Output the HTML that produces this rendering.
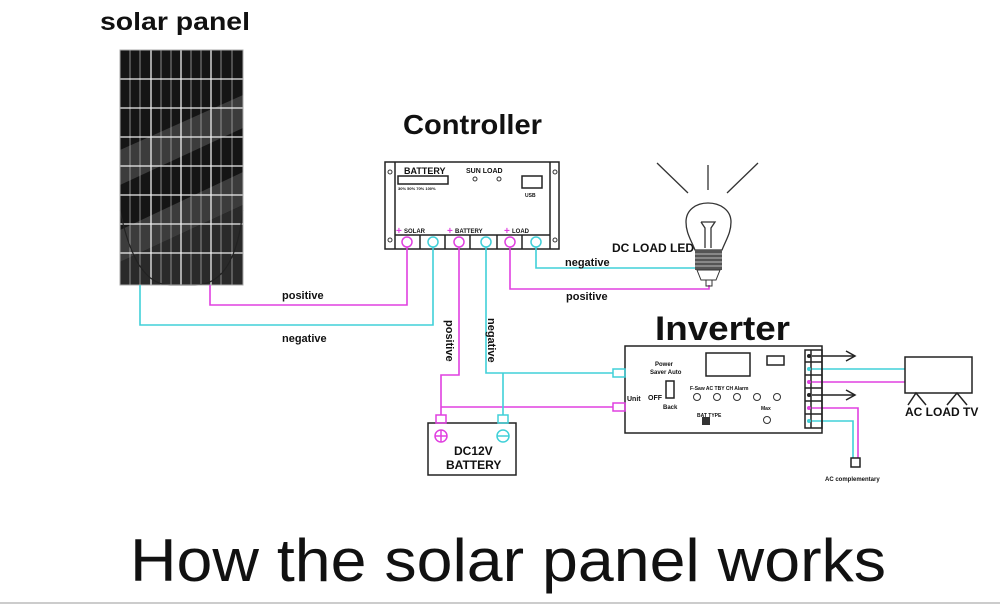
<!DOCTYPE html>
<html><head><meta charset="utf-8"><style>
html,body{margin:0;padding:0;background:#fff;}
svg{display:block;font-family:"Liberation Sans",sans-serif;}
</style></head><body>
<svg width="1000" height="605" viewBox="0 0 1000 605" xmlns="http://www.w3.org/2000/svg">
<rect width="1000" height="605" fill="#fff"/>
<line x1="0" y1="603" x2="1000" y2="603" stroke="#ccc" stroke-width="2"/>
<text x="100" y="30" font-size="25" font-weight="bold" fill="#111" textLength="150" lengthAdjust="spacingAndGlyphs">solar panel</text>
<!-- panel -->
<rect x="120" y="50" width="123" height="235" fill="#151515"/>
<polygon points="120,150 243,95 243,128 120,185" fill="#3c3c3c"/>
<polygon points="120,230 243,172 243,205 120,262" fill="#3c3c3c"/>
<polygon points="120,262 243,205 243,285 120,285" fill="#2a2a2a"/>
<g stroke="#aaa" stroke-width="0.8">
<line x1="130" y1="50" x2="130" y2="285"/><line x1="140" y1="50" x2="140" y2="285"/>
<line x1="161" y1="50" x2="161" y2="285"/><line x1="171" y1="50" x2="171" y2="285"/>
<line x1="191" y1="50" x2="191" y2="285"/><line x1="201" y1="50" x2="201" y2="285"/>
<line x1="221" y1="50" x2="221" y2="285"/><line x1="232" y1="50" x2="232" y2="285"/>
</g>
<g stroke="#eee" stroke-width="1.3">
<line x1="151" y1="50" x2="151" y2="285"/><line x1="181" y1="50" x2="181" y2="285"/><line x1="211" y1="50" x2="211" y2="285"/>
<line x1="120" y1="79" x2="243" y2="79"/><line x1="120" y1="108" x2="243" y2="108"/><line x1="120" y1="137" x2="243" y2="137"/>
<line x1="120" y1="166" x2="243" y2="166"/><line x1="120" y1="195" x2="243" y2="195"/><line x1="120" y1="224" x2="243" y2="224"/>
<line x1="120" y1="253" x2="243" y2="253"/>
</g>
<path d="M120,210 Q135,285 170,285 L195,285 Q235,285 243,210" fill="none" stroke="#222" stroke-width="1.2"/>
<rect x="120" y="50" width="123" height="235" fill="none" stroke="#aaa" stroke-width="1"/>

<!-- controller -->
<text x="403" y="134" font-size="28" font-weight="bold" fill="#111" textLength="139" lengthAdjust="spacingAndGlyphs">Controller</text>
<g stroke="#222" stroke-width="1.5" fill="none">
<rect x="385" y="162" width="174" height="87"/>
<line x1="395" y1="162" x2="395" y2="249"/><line x1="550" y1="162" x2="550" y2="249"/>
<line x1="395" y1="235" x2="550" y2="235"/>
<line x1="420" y1="235" x2="420" y2="249"/><line x1="445" y1="235" x2="445" y2="249"/>
<line x1="470" y1="235" x2="470" y2="249"/><line x1="497" y1="235" x2="497" y2="249"/><line x1="522" y1="235" x2="522" y2="249"/>
<rect x="398" y="176" width="50" height="8"/>
<rect x="522" y="176" width="20" height="12"/>
</g>
<g fill="none" stroke="#333" stroke-width="1">
<circle cx="390" cy="172" r="2"/><circle cx="390" cy="240" r="2"/><circle cx="555" cy="172" r="2"/><circle cx="555" cy="240" r="2"/>
<circle cx="475" cy="179" r="2"/><circle cx="499" cy="179" r="2"/>
</g>
<g font-size="9" font-weight="bold" fill="#111">
<text x="404" y="174">BATTERY</text><text x="466" y="173" font-size="7">SUN LOAD</text>
<text x="398" y="190" font-size="4">30% 50% 70% 100%</text><text x="525" y="197" font-size="5">USB</text>
<text x="404" y="233" font-size="6">SOLAR</text><text x="455" y="233" font-size="6">BATTERY</text><text x="512" y="233" font-size="6">LOAD</text>
</g>
<g fill="#e040e0" font-size="10" font-weight="bold"><text x="396" y="234">+</text><text x="447" y="234">+</text><text x="504" y="234">+</text></g>
<g fill="none" stroke-width="1.5">
<circle cx="407" cy="242" r="5" stroke="#e040e0"/><circle cx="459" cy="242" r="5" stroke="#e040e0"/><circle cx="510" cy="242" r="5" stroke="#e040e0"/>
<circle cx="433" cy="242" r="5" stroke="#40d0d8"/><circle cx="486" cy="242" r="5" stroke="#40d0d8"/><circle cx="536" cy="242" r="5" stroke="#40d0d8"/>
</g>
<!-- wires -->
<g fill="none" stroke-width="1.6">
<polyline points="407,247 407,305 210,305 210,285" stroke="#e040e0"/>
<polyline points="433,247 433,325 140,325 140,285" stroke="#40d0d8"/>
<polyline points="459,247 459,375 441,375 441,415" stroke="#e040e0"/>
<polyline points="441,407 613,407" stroke="#e040e0"/>
<polyline points="486,247 486,373 613,373" stroke="#40d0d8"/>
<polyline points="503,373 503,415" stroke="#40d0d8"/>
<polyline points="536,247 536,268 695,268" stroke="#40d0d8"/>
<polyline points="510,247 510,289 709,289 709,285" stroke="#e040e0"/>
<polyline points="812,369 905,369" stroke="#40d0d8"/>
<polyline points="812,382 905,382" stroke="#e040e0"/>
<polyline points="812,408 858,408 858,458" stroke="#e040e0"/>
<polyline points="812,421 853,421 853,458" stroke="#40d0d8"/>
</g>
<g font-size="11" font-weight="bold" fill="#111">
<text x="282" y="299">positive</text><text x="282" y="342">negative</text>
<text x="565" y="266">negative</text><text x="566" y="300">positive</text>
<text x="612" y="252" font-size="12">DC LOAD LED</text>
<text transform="translate(446,320) rotate(90)">positive</text>
<text transform="translate(488,318) rotate(90)">negative</text>
</g>
<!-- battery -->
<g fill="none" stroke-width="1.5">
<rect x="428" y="423" width="88" height="52" stroke="#222"/>
<rect x="436" y="415" width="10" height="8" stroke="#e040e0"/>
<rect x="498" y="415" width="10" height="8" stroke="#40d0d8"/>
<circle cx="441" cy="436" r="6" stroke="#e040e0"/><line x1="435" y1="436" x2="447" y2="436" stroke="#e040e0"/><line x1="441" y1="430" x2="441" y2="442" stroke="#e040e0"/>
<circle cx="503" cy="436" r="6" stroke="#40d0d8"/><line x1="497" y1="436" x2="509" y2="436" stroke="#40d0d8"/>
</g>
<text x="454" y="455" font-size="12" font-weight="bold" fill="#111">DC12V</text>
<text x="446" y="469" font-size="12" font-weight="bold" fill="#111">BATTERY</text>
<!-- bulb -->
<g stroke="#333" stroke-width="1.3" fill="none">
<line x1="657" y1="163" x2="688" y2="193"/><line x1="708" y1="165" x2="708" y2="190"/><line x1="758" y1="163" x2="727" y2="193"/>
<path d="M695,250 C690,238 686,232 686,222 C686,210 696,203 708,203 C720,203 731,210 731,222 C731,232 727,238 722,250 Z"/>
<path d="M701,222 L715,222 L711,228 L711,248 M705,248 L705,228 L701,222"/>
</g>
<rect x="695" y="250" width="27" height="20" fill="#555"/>
<g stroke="#ddd" stroke-width="0.8"><line x1="695" y1="254" x2="722" y2="254"/><line x1="695" y1="258" x2="722" y2="258"/><line x1="695" y1="262" x2="722" y2="262"/><line x1="695" y1="266" x2="722" y2="266"/></g>
<path d="M697,270 L720,270 L716,280 L701,280 Z" fill="none" stroke="#333"/>
<rect x="706" y="280" width="6" height="6" fill="none" stroke="#333"/>
<!-- inverter -->
<text x="655" y="340" font-size="34" font-weight="bold" fill="#111" textLength="135" lengthAdjust="spacingAndGlyphs">Inverter</text>
<g stroke="#222" stroke-width="1.5" fill="none">
<rect x="625" y="346" width="197" height="87"/>
<rect x="805" y="350" width="17" height="78"/>
<line x1="811" y1="350" x2="811" y2="428"/>
<line x1="805" y1="362" x2="822" y2="362"/><line x1="805" y1="375" x2="822" y2="375"/><line x1="805" y1="388" x2="822" y2="388"/><line x1="805" y1="401" x2="822" y2="401"/><line x1="805" y1="414" x2="822" y2="414"/>
<rect x="706" y="353" width="44" height="23"/>
<rect x="767" y="356" width="17" height="9"/>
<rect x="666" y="381" width="8" height="17"/>
<polyline points="812,356 855,356"/><polyline points="846,351 855,356 846,361"/>
<polyline points="812,395 855,395"/><polyline points="846,390 855,395 846,400"/>
<rect x="905" y="357" width="67" height="36"/>
<polyline points="908,405 916,393 926,405"/><polyline points="947,405 957,393 967,405"/>
<rect x="851" y="458" width="9" height="9"/>
</g>
<g fill="none" stroke-width="1.5">
<rect x="613" y="369" width="12" height="8" stroke="#40d0d8"/>
<rect x="613" y="403" width="12" height="8" stroke="#e040e0"/>
</g>
<g fill="none" stroke="#333" stroke-width="1">
<circle cx="697" cy="397" r="3.5"/><circle cx="717" cy="397" r="3.5"/><circle cx="737" cy="397" r="3.5"/><circle cx="757" cy="397" r="3.5"/><circle cx="777" cy="397" r="3.5"/><circle cx="767" cy="420" r="3.5"/>
</g>
<rect x="702" y="417" width="8" height="8" fill="#333"/>
<g fill="#222"><circle cx="809" cy="356" r="2"/><circle cx="809" cy="395" r="2"/></g>
<g fill="#e040e0"><circle cx="809" cy="382" r="2"/><circle cx="809" cy="408" r="2"/></g>
<g fill="#40d0d8"><circle cx="809" cy="369" r="2"/><circle cx="809" cy="421" r="2"/></g>
<g font-size="6" font-weight="bold" fill="#111">
<text x="655" y="366">Power</text><text x="650" y="374">Saver Auto</text>
<text x="627" y="401" font-size="7">Unit</text><text x="648" y="400" font-size="7">OFF</text><text x="663" y="409">Back</text>
<text x="690" y="390" font-size="5">F-Saw  AC  TBY  CH  Alarm</text>
<text x="697" y="417" font-size="5">BAT TYPE</text><text x="761" y="410" font-size="5">Max</text>
<text x="905" y="416" font-size="12">AC LOAD TV</text>
<text x="825" y="481" font-size="6">AC complementary</text>
</g>
<text x="130" y="581" font-size="60" fill="#111" textLength="756" lengthAdjust="spacingAndGlyphs">How the solar panel works</text>
</svg>
</body></html>
